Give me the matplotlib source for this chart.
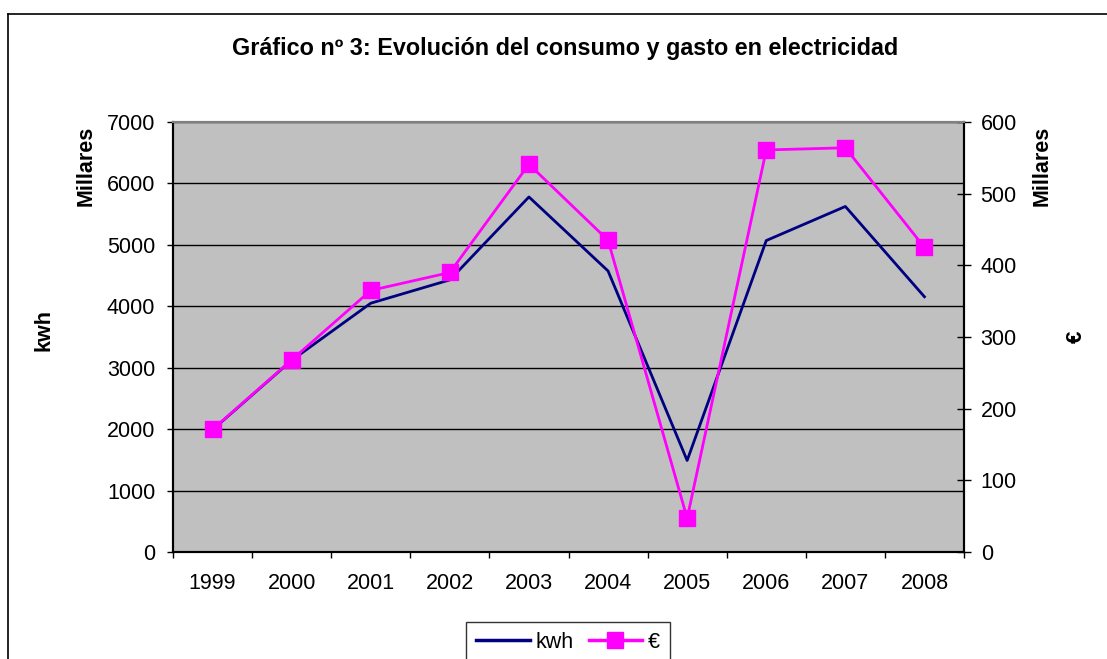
import matplotlib
matplotlib.use("Agg")
import matplotlib.pyplot as plt
from matplotlib.lines import Line2D

plt.rcParams["font.family"] = ["Liberation Sans", "DejaVu Sans"]

# Datos
years = ["1999", "2000", "2001", "2002", "2003", "2004", "2005", "2006", "2007", "2008"]
kwh = [1990, 3120, 4050, 4430, 5780, 4575, 1490, 5070, 5625, 4155]  # millares
euros = [171, 268, 365, 390, 541, 435, 47, 561, 564, 425]  # millares

W, H = 1107, 659
fig = plt.figure(figsize=(W / 100, H / 100), dpi=100)

# caja exterior (solo borde superior e izquierdo visibles)
fig.add_artist(Line2D([8 / W, 1], [1 - 14 / H, 1 - 14 / H], color="black", lw=1.2))
fig.add_artist(Line2D([8 / W, 8 / W], [0, 1 - 14 / H], color="black", lw=1.2))

x0, x1, y0, y1 = 173, 964, 122, 552
ax = fig.add_axes([x0 / W, 1 - y1 / H, (x1 - x0) / W, (y1 - y0) / H])
ax.set_facecolor("#c0c0c0")
ax2 = ax.twinx()

xs = list(range(len(years)))
ax.plot(xs, kwh, color="#000080", lw=2, zorder=3)
ax2.plot(xs, euros, color="#ff00ff", lw=2, marker="s", ms=11.5,
         markerfacecolor="#ff00ff", markeredgecolor="#ff00ff", zorder=4)

ax.set_xlim(-0.5, len(years) - 0.5)
ax.set_ylim(0, 7000)
ax2.set_ylim(0, 600)
ax.set_yticks(range(0, 7001, 1000))
ax2.set_yticks(range(0, 601, 100))
ax.yaxis.grid(True, color="black", lw=1)
ax.set_axisbelow(True)

# categorias: marcas entre anos, etiquetas centradas
ax.set_xticks([i - 0.5 for i in range(len(years) + 1)])
ax.set_xticklabels([])
ax.set_xticks(xs, minor=True)
ax.set_xticklabels(years, minor=True)
ax.tick_params(axis="x", which="major", direction="out", length=4, width=1)
ax.tick_params(axis="x", which="minor", length=0, pad=15, labelsize=15.5)
ax.tick_params(axis="y", direction="out", length=4.3, width=1, labelsize=15.5, pad=8.5)
ax2.tick_params(axis="y", direction="inout", length=10, width=1, labelsize=15.5, pad=7)

for a in (ax, ax2):
    a.spines["top"].set_color("#808080")
    a.spines["top"].set_linewidth(1.5)
    for s in ("left", "right", "bottom"):
        a.spines[s].set_linewidth(1.5)

fig.text(565 / W, 1 - 48 / H, "Gráfico nº 3: Evolución del consumo y gasto en electricidad",
         ha="center", va="center", fontsize=16.8, fontweight="bold")
fig.text(86 / W, 1 - 166 / H, "Millares", rotation=90, ha="center", va="center",
         fontsize=15.5, fontweight="bold")
fig.text(44 / W, 1 - 330 / H, "kwh", rotation=90, ha="center", va="center",
         fontsize=15.5, fontweight="bold")
fig.text(1042 / W, 1 - 166 / H, "Millares", rotation=90, ha="center", va="center",
         fontsize=15.5, fontweight="bold")
fig.text(1076 / W, 1 - 337 / H, "€", rotation=90, ha="center", va="center",
         fontsize=16, fontweight="bold")

handles = [
    Line2D([], [], color="#000080", lw=2.5),
    Line2D([], [], color="#ff00ff", lw=2.5, marker="s", ms=12),
]
leg = fig.legend(handles, ["kwh", "€"], loc="upper center",
                 bbox_to_anchor=(568 / W, 1 - 622 / H), ncol=2, fontsize=15.5,
                 frameon=True, fancybox=False, edgecolor="black",
                 handlelength=2.5, handletextpad=0.25, columnspacing=0.7,
                 borderpad=0.45, borderaxespad=0)
leg.get_frame().set_linewidth(1)

fig.savefig("out.png", dpi=100)
